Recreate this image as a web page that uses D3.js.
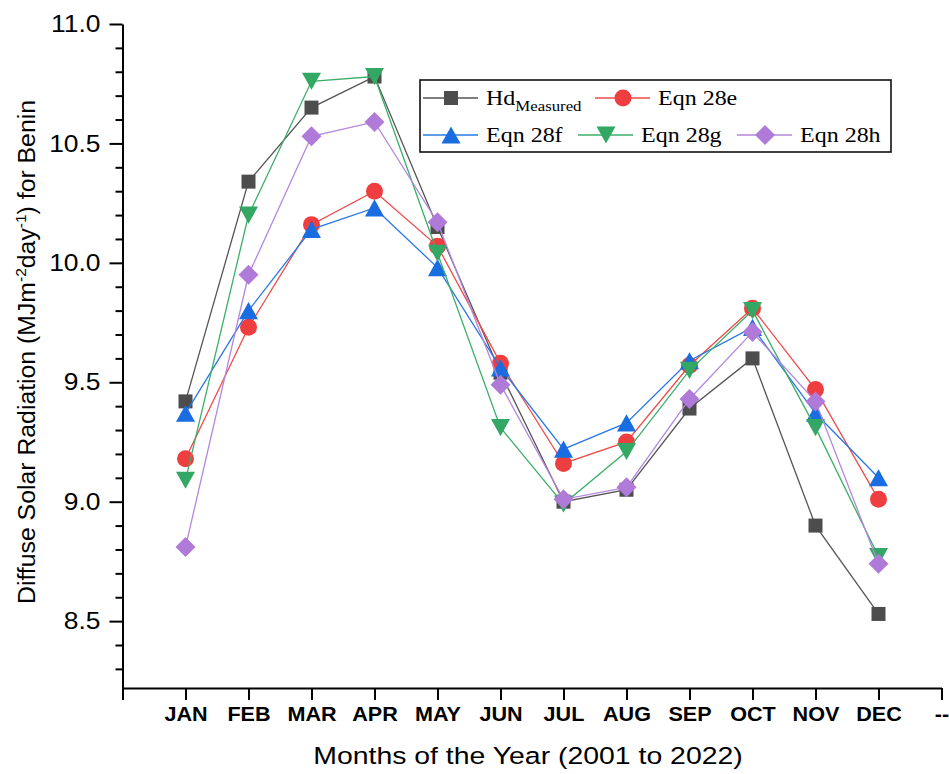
<!DOCTYPE html>
<html>
<head>
<meta charset="utf-8">
<script src="https://cdn.jsdelivr.net/npm/d3@7"></script>
<style>
  body { margin: 0; background: #fff; }
  text { font-family: "Liberation Sans", Arial, sans-serif; fill: #000; }
</style>
</head>
<body>
<div id="chart"></div>
<script>
const width = 949
const height = 774

// data
const months = ["JAN", "FEB", "MAR", "APR", "MAY", "JUN", "JUL", "AUG", "SEP", "OCT", "NOV", "DEC"]
const tickLabels = ["", ...months, "--"]
const hdMeasured = [9.42, 10.34, 10.65, 10.78, 10.15, 9.54, 9.00, 9.05, 9.39, 9.60, 8.90, 8.53]
const eqn28e = [9.18, 9.73, 10.16, 10.30, 10.07, 9.58, 9.16, 9.25, 9.57, 9.81, 9.47, 9.01]
const eqn28f = [9.37, 9.80, 10.14, 10.23, 9.98, 9.56, 9.22, 9.33, 9.59, 9.73, 9.37, 9.10]
const eqn28g = [9.09, 10.20, 10.76, 10.78, 10.04, 9.31, 8.99, 9.21, 9.55, 9.80, 9.31, 8.77]
const eqn28h = [8.81, 9.95, 10.53, 10.59, 10.17, 9.49, 9.01, 9.06, 9.43, 9.71, 9.42, 8.74]
const yMajor = [8.5, 9.0, 9.5, 10.0, 10.5, 11.0]
const yMinor = [8.3, 8.4, 8.6, 8.7, 8.8, 8.9, 9.1, 9.2, 9.3, 9.4, 9.6, 9.7, 9.8, 9.9,
                10.1, 10.2, 10.3, 10.4, 10.6, 10.7, 10.8, 10.9]

const stretch = "scale(1.16,1)"

// custom symbols so the marker shapes look like Origin's
const symSquare = { draw(ctx, s) { const h = s / 2; ctx.rect(-h, -h, s, s) } }
const symCircle = { draw(ctx, s) { ctx.moveTo(s / 2, 0); ctx.arc(0, 0, s / 2, 0, 2 * Math.PI) } }
const symUp = { draw(ctx, s) { const h = s * 0.45; ctx.moveTo(0, -h); ctx.lineTo(s / 2, h); ctx.lineTo(-s / 2, h); ctx.closePath() } }
const symDown = { draw(ctx, s) { const h = s * 0.45; ctx.moveTo(0, h); ctx.lineTo(s / 2, -h); ctx.lineTo(-s / 2, -h); ctx.closePath() } }
const symDiamond = { draw(ctx, s) { const h = s / 2; ctx.moveTo(0, -h); ctx.lineTo(h, 0); ctx.lineTo(0, h); ctx.lineTo(-h, 0); ctx.closePath() } }

const series = [
  { name: "Hd", values: hdMeasured, color: "#4d4d4d", line: "#555555", sym: symSquare, size: 14 },
  { name: "Eqn 28e", values: eqn28e, color: "#ef3e3f", line: "#ef4a4a", sym: symCircle, size: 17 },
  { name: "Eqn 28f", values: eqn28f, color: "#1a6de0", line: "#2a78e4", sym: symUp, size: 19 },
  { name: "Eqn 28g", values: eqn28g, color: "#33a864", line: "#3cae6a", sym: symDown, size: 19 },
  { name: "Eqn 28h", values: eqn28h, color: "#b07ad9", line: "#b487dd", sym: symDiamond, size: 20 },
]

const svg = d3.select("#chart")
  .append("svg")
  .attr("width", width)
  .attr("height", height)

const xScale = d3.scaleLinear().domain([0, 13]).range([122.5, 941.5])
const yScale = d3.scaleLinear().domain([8.22, 11.0]).range([688, 24])

// y axis
const yAxis = svg.append("g")
  .attr("transform", "translate(122.5,0)")
  .call(d3.axisLeft(yScale).tickValues(yMajor).tickSize(13).tickSizeOuter(0).tickPadding(8)
    .tickFormat(d3.format(".1f")))
yAxis.selectAll("text")
  .attr("font-size", 24)
  .attr("transform", "scale(1.1,1)")
  .attr("x", -20)
svg.append("g")
  .attr("transform", "translate(122.5,0)")
  .call(d3.axisLeft(yScale).tickValues(yMinor).tickSize(7).tickFormat(""))
  .select(".domain").remove()

// x axis
const xAxis = svg.append("g")
  .attr("transform", "translate(0,688)")
  .call(d3.axisBottom(xScale).tickValues(d3.range(0, 14)).tickSize(12).tickSizeOuter(0)
    .tickFormat(i => tickLabels[i]))
xAxis.selectAll("text")
  .attr("font-size", 20)
  .attr("font-weight", "bold")
  .attr("transform", "scale(1.08,1)")
  .attr("y", 19)
  .attr("dy", "0.71em")

svg.selectAll(".domain, .tick line")
  .attr("stroke", "#000")
  .attr("stroke-width", 2)

// axis titles
svg.append("text")
  .attr("transform", "translate(528,764) " + stretch)
  .attr("text-anchor", "middle")
  .attr("font-size", 24.5)
  .text("Months of the Year (2001 to 2022)")

const yTitle = svg.append("text")
  .attr("transform", "translate(35,352) rotate(-90)")
  .attr("text-anchor", "middle")
  .attr("font-size", 24.8)
yTitle.append("tspan").text("Diffuse Solar Radiation (MJm")
yTitle.append("tspan").attr("font-size", 15.5).attr("dy", -9).text("-2")
yTitle.append("tspan").attr("dy", 9).text("day")
yTitle.append("tspan").attr("font-size", 15.5).attr("dy", -9).text("-1")
yTitle.append("tspan").attr("dy", 9).text(") for Benin")

// lines and markers
const lineFunc = d3.line()
  .x((d, i) => xScale(i + 1))
  .y(d => yScale(d))

series.forEach(s => {
  const g = svg.append("g")
  g.append("path")
    .attr("d", lineFunc(s.values))
    .attr("fill", "none")
    .attr("stroke", s.line)
    .attr("stroke-width", 1.3)
  g.selectAll("path.mark")
    .data(s.values)
    .join("path")
    .attr("class", "mark")
    .attr("transform", (d, i) => `translate(${xScale(i + 1)},${yScale(d)})`)
    .attr("d", d3.symbol(s.sym, s.size))
    .attr("fill", s.color)
})

// legend
const legend = svg.append("g")
legend.append("rect")
  .attr("x", 420).attr("y", 80).attr("width", 471).attr("height", 72)
  .attr("fill", "#fff").attr("stroke", "#111").attr("stroke-width", 1.6)

const legendPos = [
  { x: 423, y: 98 }, { x: 595, y: 98 },
  { x: 423, y: 135 }, { x: 578, y: 135 }, { x: 737, y: 135 },
]
series.forEach((s, i) => {
  const p = legendPos[i]
  const item = legend.append("g").attr("transform", `translate(${p.x},${p.y})`)
  item.append("line").attr("x1", 0).attr("x2", 55)
    .attr("stroke", s.line).attr("stroke-width", 1.3)
  item.append("path")
    .attr("transform", "translate(28,0)")
    .attr("d", d3.symbol(s.sym, s.size))
    .attr("fill", s.color)
  const t = item.append("text")
    .attr("transform", "translate(63,7) scale(1.2,1)")
    .style("font-family", "'Liberation Serif', 'Times New Roman', serif")
    .attr("font-size", 20)
  t.append("tspan").text(s.name)
  if (i === 0) t.append("tspan").attr("font-size", 14).attr("dy", 6).text("Measured")
})
</script>
</body>
</html>
